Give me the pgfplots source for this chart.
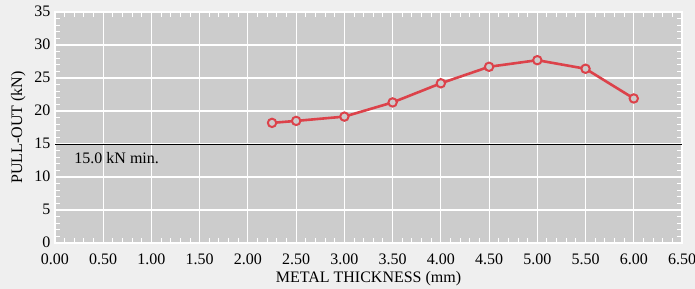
\documentclass[border=0pt]{standalone}
\usepackage{pgfplots}
\pgfplotsset{compat=1.18}
\usepackage{fontspec}
\setmainfont{Liberation Serif}
\definecolor{outerbg}{HTML}{EFEFEF}
\definecolor{plotbg}{HTML}{CCCCCC}
\definecolor{linered}{HTML}{DC424A}
\begin{document}
\begin{tikzpicture}
\fill[outerbg, use as bounding box] (-55bp,-46bp) rectangle (640bp,243bp);
\begin{axis}[
  at={(0,0)}, anchor=south west,
  scale only axis, width=627bp, height=231bp,
  xmin=0, xmax=6.5, ymin=0, ymax=35,
  xtick={0,0.5,...,6.5}, ytick={0,5,...,35},
  minor x tick num=4, minor y tick num=4,
  xticklabel={\pgfmathprintnumber[fixed,precision=2,zerofill]{\tick}},
  /pgf/number format/assume math mode=true,
  axis background/.style={fill=plotbg},
  axis line style={white, line width=1.6bp},
  grid=major, major grid style={white, line width=1.1bp},
  tick align=inside, tick style={white, line width=1bp},
  major tick length=0pt, minor tick length=5bp,
  tick label style={font=\fontsize{16bp}{18bp}\selectfont},
  label style={font=\fontsize{16bp}{18bp}\selectfont},
  xlabel={METAL THICKNESS (mm)}, ylabel={PULL-OUT (kN)},
  xlabel style={yshift=0bp}, ylabel style={yshift=2bp},
  xticklabel style={yshift=-7bp}, yticklabel style={xshift=-1bp, yshift=1bp},
  clip=false,
]
\addplot[black, line width=0.8bp] coordinates {(0,15) (6.5,15)};
\node[anchor=north west, inner sep=0pt, font=\fontsize{16bp}{18bp}\selectfont] at (axis cs:0.2,13.8) {15.0 kN min.};
\addplot[linered, line width=2.6bp, mark=*, mark size=4.2bp,
  mark options={fill=plotbg, draw=linered, line width=2bp}]
  coordinates {
  (2.25,18.2) (2.5,18.5) (3.0,19.15) (3.5,21.3) (4.0,24.2)
  (4.5,26.7) (5.0,27.7) (5.5,26.4) (6.0,21.9)
  };
\end{axis}
\end{tikzpicture}
\end{document}
